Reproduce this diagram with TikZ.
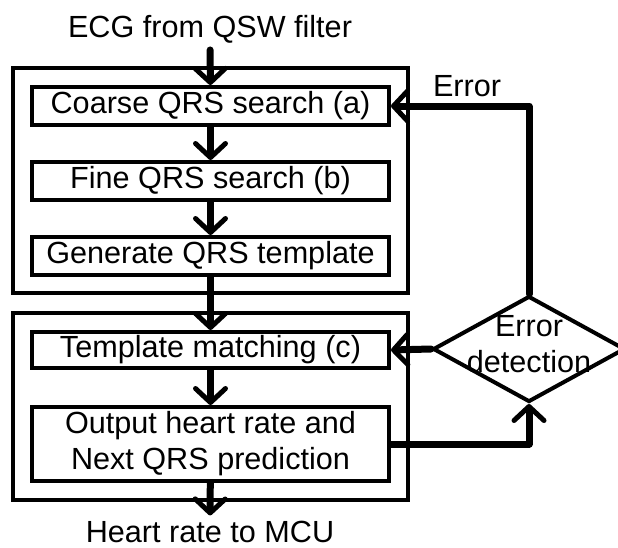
\documentclass[tikz,border=0pt]{standalone}
\usepackage{fontspec}
\setmainfont{Liberation Sans}
\usetikzlibrary{arrows.meta,shapes.geometric}

\begin{document}
\begin{tikzpicture}[
	x=1pt, y=-1pt,
	txt/.style={font=\fontsize{30.6}{36}\selectfont, inner sep=0pt},
	box/.style={txt, draw, line width=4pt, minimum width=357pt, minimum height=38pt, align=center},
	frame/.style={line width=4pt},
	flow/.style={line width=7pt, line cap=round, line join=round,
		-{Straight Barb[length=14pt, width=30pt, line width=5pt, round]}}
	]
	\useasboundingbox (0,0) rectangle (618,547);
	% Outer frames
	\draw[frame] (13,68) rectangle (408,293);
	\draw[frame] (13,313) rectangle (408,500);
	% Input and output
	\node[txt, anchor=base] (ecg) at (210,37) {ECG from QSW filter};
	\node[txt, anchor=base] (hr) at (210,542) {Heart rate to MCU};
	% Search and template steps
	\node[box] (coarse) at (210.5,106) {Coarse QRS search (a)};
	\node[box] (fine) at (210.5,181) {Fine QRS search (b)};
	\node[box] (gen) at (210.5,256) {Generate QRS template};
	% Matching and output steps
	\node[box, minimum height=36pt] (match) at (210.5,350) {Template matching (c)};
	\node[box, minimum height=74pt] (out) at (210.5,444) {Output heart rate and\\Next QRS prediction};
	% Error detection
	\node[diamond, draw, line width=4pt, minimum width=192pt, minimum height=106pt, inner sep=0pt] (err) at (529,349) {};
	\node[txt, align=center] (errtxt) at (529,344) {Error\\detection};
	\node[txt, anchor=base] (errlbl) at (467,96) {Error};
	% Flow
	\draw[flow, shorten <=7pt] (ecg) -- (coarse);
	\draw[flow] (coarse) -- (fine);
	\draw[flow] (fine) -- (gen);
	\draw[flow] (gen) -- (match);
	\draw[flow] (match) -- (out);
	\draw[flow, shorten >=5pt] (out) -- (hr);
	% Feedback
	\draw[flow] (err.north) |- (coarse.east);
	\draw[flow] (err.west) -- (match.east);
	\draw[flow] (out.east) -| (err.south);
\end{tikzpicture}
\end{document}
